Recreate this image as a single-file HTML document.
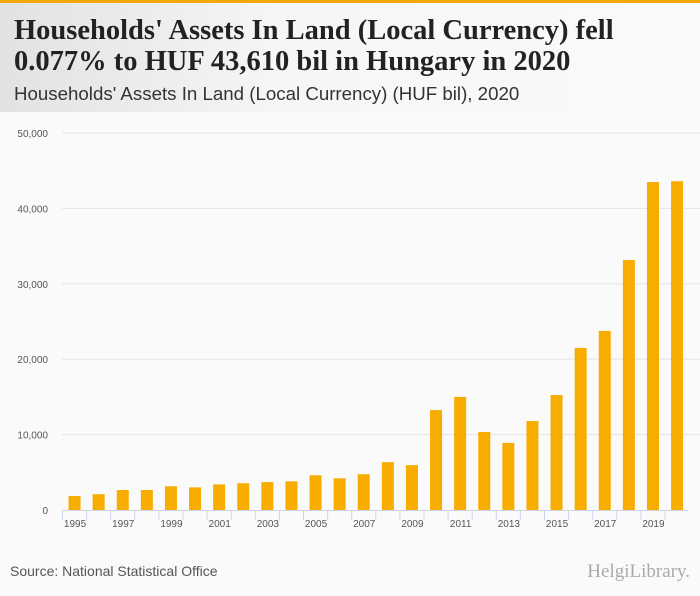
<!DOCTYPE html>
<html><head><meta charset="utf-8"><style>
body{margin:0;width:700px;height:596px;overflow:hidden;background:#fafafa;font-family:"Liberation Sans",sans-serif;}
#hdr{position:absolute;left:0;top:0;width:700px;height:112px;background:linear-gradient(90deg,#e2e2e2 0%,#f6f6f6 40%,#fafafa 100%);border-top:3px solid #f5a800;box-sizing:border-box}
#t{position:absolute;left:14px;top:12px;font-family:"Liberation Serif",serif;font-weight:bold;font-size:28.5px;line-height:31px;color:#222}
#st{position:absolute;left:14px;top:80px;font-size:18.7px;color:#333}
#src{position:absolute;left:10px;top:563px;font-size:14px;color:#555}
#logo{position:absolute;right:10px;top:561px;font-size:19px;color:#aaa;font-family:"Liberation Serif",serif}
</style></head><body>
<div id="hdr">
<div id="t">Households' Assets In Land (Local Currency) fell<br>0.077% to HUF 43,610 bil in Hungary in 2020</div>
<div id="st">Households' Assets In Land (Local Currency) (HUF bil), 2020</div>
</div>
<svg id="c" width="700" height="596" style="position:absolute;left:0;top:0"></svg>
<div id="src">Source: National Statistical Office</div>
<div id="logo">HelgiLibrary.</div>
<script>
const years=[1995,1996,1997,1998,1999,2000,2001,2002,2003,2004,2005,2006,2007,2008,2009,2010,2011,2012,2013,2014,2015,2016,2017,2018,2019,2020];
const values=[1850,2100,2650,2650,3150,3000,3400,3550,3700,3800,4600,4200,4750,6350,5950,13250,15000,10350,8900,11800,15250,21500,23750,33150,43500,43610];
const yTicks=[0,10000,20000,30000,40000,50000];
const yTickLabels=["0","10,000","20,000","30,000","40,000","50,000"];
const svg=document.getElementById('c');const NS='http://www.w3.org/2000/svg';
const x0=62,step=24.1,y0=510,yTop=133,ymax=50000;
const y=v=>y0-(v/ymax)*(y0-yTop);
const x=i=>x0+i*step;
function mk(t,a){const e=document.createElementNS(NS,t);for(const k in a)e.setAttribute(k,a[k]);svg.appendChild(e);return e;}
yTicks.forEach((v,i)=>{
 if(v>0){const g=mk('line',{x1:62,x2:700,y1:y(v),y2:y(v),stroke:'#e4e4e4','stroke-width':1});
 
 }
 const t=mk('text',{x:48,y:y(v)+4,'text-anchor':'end','font-size':10,fill:'#555','font-family':'Liberation Sans'});
 t.textContent=yTickLabels[i];
 
 
});
const ax=mk('line',{x1:x0,x2:x(years.length),y1:y0+0.5,y2:y0+0.5,stroke:'#ccd6eb'});


years.forEach((yr,i)=>{
 const tk=mk('line',{x1:x(i)+0.5,x2:x(i)+0.5,y1:y0,y2:y0+10,stroke:'#ccd6eb'});
 
 
 const b=mk('rect',{x:x(i)+step/2-5.5,y:y(values[i]),width:12,height:y0-y(values[i]),fill:'#f7ac00'});
 
 
 if(i%2==0){const t=mk('text',{x:x(i)+step/2+1,y:527,'text-anchor':'middle','font-size':10,fill:'#555','font-family':'Liberation Sans'});
 t.textContent=yr;
 
 }
});
</script>
</body></html>
